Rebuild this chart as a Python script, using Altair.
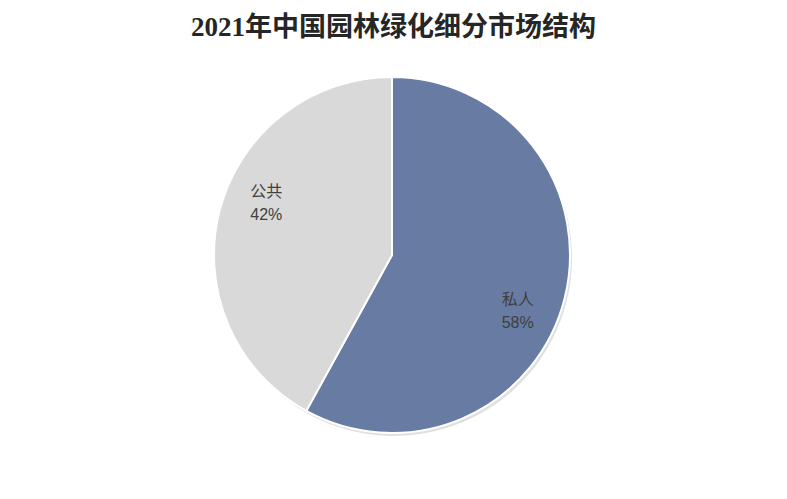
import altair as alt
import pandas as pd

categories = ["私人", "公共"]
values = [58, 42]
labels = ["私人\n58%", "公共\n42%"]
colors = ["#677ba3", "#d9d9d9"]

df = pd.DataFrame({"cat": categories, "val": values, "label": labels, "order": [0, 1]})

W, H = 787 - 16, 374
CX, CY = W / 2 - 1.5, H / 2
R = 178

base = alt.Chart(df).encode(
    theta=alt.Theta("val:Q", stack=True),
    order=alt.Order("order:Q"),
)

shadow = base.mark_arc(radius=R, fill="#000000", opacity=0.12).encode(
    x=alt.value(CX + 2), y=alt.value(CY + 3)
)

pie = base.mark_arc(radius=R, stroke="white", strokeWidth=2).encode(
    x=alt.value(CX), y=alt.value(CY),
    color=alt.Color("cat:N", scale=alt.Scale(domain=categories, range=colors), legend=None),
)

text = base.mark_text(radius=137, thetaOffset=0.157, dy=-9, fontSize=16, color="#404040",
                      lineBreak="\n", font="Liberation Sans, Noto Sans CJK SC", lineHeight=23).encode(
    x=alt.value(CX), y=alt.value(CY),
    text="label:N",
)

chart = alt.layer(shadow, pie, text).properties(
    width=W, height=H,
    autosize=alt.AutoSizeParams(type="none"),
    padding={"top": 60, "left": 0, "right": 0, "bottom": 0},
    title=alt.TitleParams("2021年中国园林绿化细分市场结构", fontSize=27, fontWeight="bold",
                          font="Liberation Serif, Noto Sans CJK SC", color="#262626",
                          anchor="middle", offset=26),
).configure_view(stroke=None)

chart.save("out.html", embed_options={"renderer": "svg", "actions": False})
